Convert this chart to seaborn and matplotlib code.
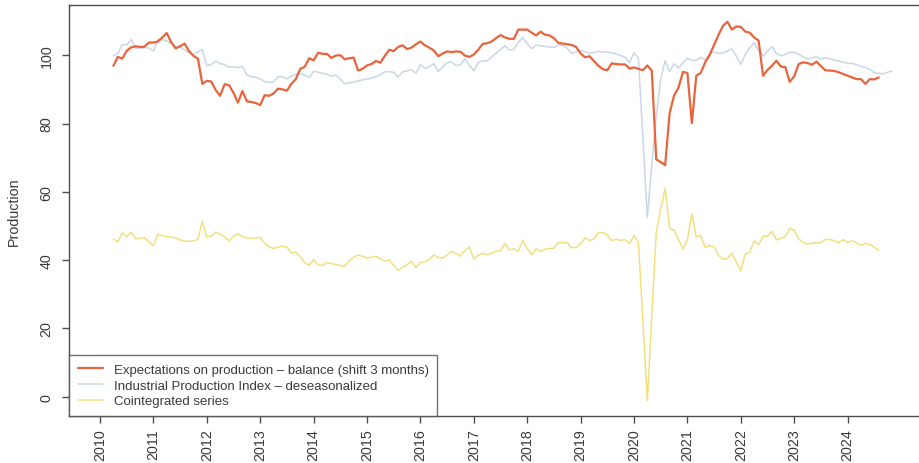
import matplotlib
matplotlib.use('Agg')
import matplotlib.pyplot as plt
import numpy as np
import pandas as pd
import seaborn as sns

# Monthly series, starting April 2010
expectations = [
    96.9, 99.5, 99.0, 101.3, 102.3, 102.6, 102.4, 102.5, 103.7, 103.7, 104.0, 105.2,
    106.5, 103.8, 102.0, 102.6, 103.4, 101.2, 99.8, 99.0, 91.6, 92.5, 92.3, 89.8,
    88.1, 91.5, 91.2, 89.0, 86.1, 89.5, 86.5, 86.3, 86.0, 85.4, 88.3, 88.1,
    88.8, 90.2, 90.0, 89.6, 91.6, 93.0, 96.0, 96.6, 99.1, 98.5, 100.7, 100.4,
    100.4, 99.2, 99.9, 100.0, 98.8, 99.1, 99.3, 95.5, 96.0, 97.0, 97.4, 98.3,
    97.8, 99.8, 101.6, 101.2, 102.4, 102.9, 101.8, 102.2, 103.2, 104.0, 102.9, 102.2,
    101.4, 99.7, 100.5, 101.1, 100.9, 101.1, 101.0, 99.9, 99.5, 100.2, 101.6, 103.3,
    103.5, 104.0, 105.0, 105.9, 105.2, 104.8, 104.8, 107.5, 107.5, 107.5, 106.6, 105.8,
    106.9, 106.0, 105.8, 105.0, 103.6, 103.4, 103.2, 103.0, 102.4, 100.5, 99.4, 99.7,
    98.3, 96.9, 95.9, 95.6, 97.6, 97.4, 97.3, 97.3, 96.1, 96.4, 96.0, 95.6,
    97.0, 95.5, 69.5, 68.7, 67.8, 83.0, 88.2, 90.5, 95.1, 94.8, 80.1, 94.0,
    94.8, 97.9, 100.1, 103.0, 106.0, 108.6, 109.8, 107.5, 108.4, 108.3, 106.9, 106.6,
    105.2, 104.3, 94.0, 95.7, 96.9, 98.4, 96.7, 96.5, 92.2, 93.8, 97.4, 97.9,
    97.7, 97.2, 98.1, 96.8, 95.6, 95.5, 95.4, 95.0, 94.5, 94.0, 93.5, 93.0,
    93.0, 91.6, 93.0, 92.9, 93.5,
]

ipi = [
    99.9, 100.4, 103.1, 103.0, 104.6, 102.0, 102.0, 102.2, 102.1, 101.2, 104.6, 104.5,
    104.2, 103.4, 102.5, 102.4, 101.6, 100.7, 100.3, 101.0, 101.6, 96.9, 97.3, 98.2,
    97.5, 97.3, 96.5, 96.6, 96.4, 96.7, 94.3, 93.7, 93.5, 93.0, 92.3, 92.0,
    92.2, 93.7, 93.7, 93.1, 93.9, 94.4, 94.6, 94.2, 93.4, 95.3, 95.0, 94.7,
    94.4, 93.8, 94.2, 93.0, 91.6, 91.9, 92.1, 92.5, 92.8, 93.0, 93.3, 93.7,
    94.3, 95.1, 95.2, 95.0, 93.6, 95.1, 95.4, 95.8, 94.7, 97.3, 96.1, 96.6,
    97.5, 95.3, 96.5, 97.8, 98.1, 97.0, 97.2, 99.0, 97.0, 95.5, 97.8, 98.4,
    98.3, 99.4, 100.6, 101.6, 102.8, 101.5, 101.7, 103.7, 105.2, 103.4, 101.9, 102.9,
    102.8, 102.6, 102.4, 102.3, 103.0, 102.9, 102.0, 100.5, 101.0, 101.4, 101.0, 100.6,
    100.8, 101.1, 101.0, 100.9, 100.7, 100.4, 99.9, 99.4, 97.8, 100.7, 99.0, 76.0,
    52.5, 68.0, 82.0, 93.0, 98.4, 95.2, 97.5, 96.2, 97.8, 99.1, 98.5, 98.5,
    99.4, 98.6, 100.3, 100.9, 100.5, 100.7, 101.2, 101.9, 99.7, 97.3, 100.2, 102.2,
    103.6, 101.5, 99.7, 101.2, 102.5, 100.5, 99.8, 100.3, 100.8, 100.9, 100.3, 99.5,
    98.9, 99.3, 99.5, 98.9, 99.2, 99.0, 98.6, 98.3, 98.0, 97.6, 97.6, 97.2,
    96.8, 96.4, 95.8, 94.8, 94.7, 94.5, 95.0, 95.4,
]

cointegrated = [
    46.2, 45.3, 48.0, 46.8, 48.2, 46.2, 46.4, 46.6, 45.3, 44.2, 47.6, 47.1,
    46.9, 46.7, 46.5, 45.9, 45.5, 45.5, 45.6, 46.1, 51.3, 46.7, 47.0, 48.2,
    47.6, 46.8, 45.6, 47.0, 47.7, 46.9, 46.5, 46.3, 46.5, 46.6, 44.9, 43.9,
    43.4, 43.8, 44.1, 43.8, 42.1, 42.3, 41.0, 39.2, 38.5, 40.1, 38.6, 38.4,
    39.3, 39.0, 38.7, 38.4, 38.2, 39.8, 40.9, 41.5, 41.1, 40.6, 40.9, 41.1,
    40.4, 39.7, 40.0, 38.5, 37.0, 37.9, 38.7, 39.6, 37.8, 39.3, 39.5, 40.1,
    41.5, 40.8, 40.6, 41.5, 42.6, 41.9, 41.2, 42.8, 43.8, 40.4, 41.4, 42.0,
    41.5, 42.1, 42.6, 42.8, 44.9, 43.0, 43.3, 42.6, 45.8, 43.4, 41.6, 43.3,
    42.5, 43.2, 43.4, 43.5, 45.1, 45.1, 45.0, 43.6, 43.7, 44.7, 46.5, 45.7,
    46.2, 48.0, 48.1, 47.4, 45.7, 46.1, 45.8, 46.0, 44.9, 47.2, 45.2, 22.0,
    -1.2, 24.0, 48.0, 55.0, 61.0, 49.4, 48.7, 46.0, 43.3, 45.9, 53.5, 46.8,
    47.2, 43.7, 44.3, 43.9, 41.4, 40.2, 40.5, 42.0, 39.4, 36.8, 41.8, 42.2,
    45.6, 44.5, 47.0, 47.0, 48.4, 45.9, 46.4, 46.9, 49.3, 48.7, 46.2, 45.2,
    44.7, 45.0, 45.0, 45.1, 46.1, 46.0, 45.7, 45.1, 46.0, 45.2, 45.7, 45.0,
    44.3, 44.9, 44.6, 43.8, 42.7,
]

labels = ['Expectations on production \u2013 balance (shift 3 months)',
          'Industrial Production Index \u2013 deseasonalized',
          'Cointegrated series']
colors = ['#E8643C', '#C9D7E6', '#F2DF7E']
years = list(range(2010, 2025))


def decimal_months(n):
    d = pd.date_range('2010-04-01', periods=n, freq='MS')
    return d.year + (d.month - 1) / 12.0


sns.set_style('white')
plt.rcParams['font.family'] = ['Liberation Sans', 'DejaVu Sans']

fig = plt.figure(figsize=(9.19, 4.64), dpi=100)
ax = fig.add_axes([69 / 919, 1 - 417 / 464, 859 / 919, 411 / 464])

series = [expectations, ipi, cointegrated]
widths = [1.6, 1.1, 1.1]
zorders = [4, 3, 5]
for vals, lab, col, lw, zo in zip(series, labels, colors, widths, zorders):
    sns.lineplot(x=decimal_months(len(vals)), y=vals, ax=ax, color=col,
                 lw=lw, label=lab, zorder=zo, sort=False)

ax.set_xlim(2010 - 31 / 53.4, 2010 + 859 / 53.4 - 31 / 53.4)
ax.set_ylim(-5.65, 114.7)

ax.set_xticks(years)
ax.set_xticklabels([str(y) for y in years], rotation=90)
ax.set_yticks([0, 20, 40, 60, 80, 100])
ax.set_yticklabels(['0', '20', '40', '60', '80', '100'], rotation=90, va='center')
ax.tick_params(axis='both', direction='out', length=5, width=1, color='#4d4d4d',
               labelsize=10.3, labelcolor='#3a3a3a')
ax.tick_params(axis='x', pad=4)
ax.tick_params(axis='y', pad=6)
ax.xaxis.set_ticks_position('bottom')
ax.yaxis.set_ticks_position('left')

for s in ax.spines.values():
    s.set_color('#4d4d4d')
    s.set_linewidth(1.0)

ax.set_ylabel('Production', fontsize=10.3, color='#3a3a3a')
ax.yaxis.set_label_coords(-48 / 859, 0.5)
ax.set_xlabel('')

leg = ax.legend(loc='lower left', bbox_to_anchor=(0, 0), borderaxespad=0,
                fancybox=False, frameon=True, fontsize=9.5, handlelength=1.9,
                handletextpad=0.85, borderpad=0.65, labelspacing=0.27)
leg.get_frame().set_edgecolor('#4d4d4d')
leg.get_frame().set_linewidth(1.0)
for t in leg.get_texts():
    t.set_color('#3a3a3a')

fig.savefig('out.png', dpi=100)
